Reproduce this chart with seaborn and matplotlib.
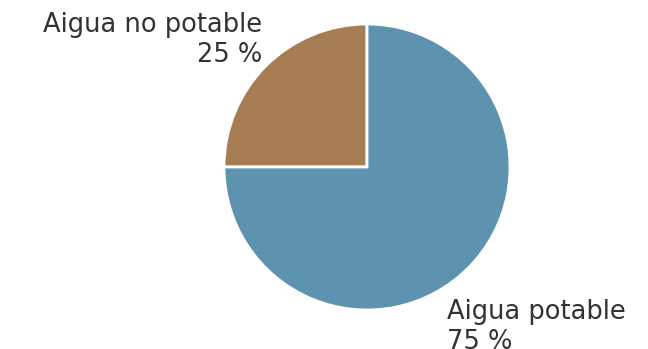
import matplotlib
matplotlib.use("Agg")
import matplotlib.pyplot as plt
import seaborn as sns

sns.set_theme(style="white")
plt.rcParams["font.family"] = ["DejaVu Sans"]

categories = ["Aigua no potable", "Aigua potable"]
values = [25, 75]
colors = ["#A67C52", "#5E93B0"]

fig = plt.figure(figsize=(6.48, 3.49), dpi=100)
ax = fig.add_axes([224 / 648, 39 / 349, 286 / 648, 286 / 349])

wedges, _ = ax.pie(
    values,
    colors=colors,
    startangle=90,
    counterclock=True,
    radius=1,
    wedgeprops=dict(edgecolor="white", linewidth=2),
)
ax.set_xlim(-1, 1)
ax.set_ylim(-1, 1)
ax.set_aspect("equal")
ax.axis("off")

label_style = dict(fontsize=18.5, fontweight="normal", color="#333333",
                   va="baseline", clip_on=False)

# upper-left label for the smaller slice
ax.text(-0.73, 0.944, categories[0], ha="right", **label_style)
ax.text(-0.73, 0.734, f"{values[0]} %", ha="right", **label_style)

# lower-right label for the larger slice
ax.text(0.559, -1.063, categories[1], ha="left", **label_style)
ax.text(0.559, -1.273, f"{values[1]} %", ha="left", **label_style)

fig.savefig("out.png", dpi=100)
